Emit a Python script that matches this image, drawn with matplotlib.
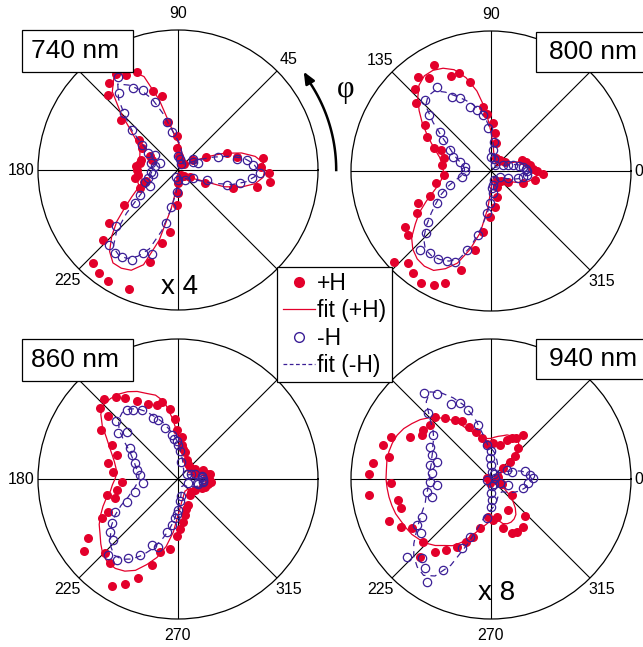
import numpy as np
import matplotlib
matplotlib.use('Agg')
import matplotlib.pyplot as plt
from matplotlib.lines import Line2D
from matplotlib.patches import Rectangle

plt.rcParams['font.family'] = ['Liberation Sans', 'DejaVu Sans']

W, H = 643, 647
RED = '#e3002b'
BLUE = '#3b1f96'

# angle grid of the fitted curves (deg)
fit_deg = np.arange(0, 360, 5)

# ---------------- 740 nm ----------------
p740_fit = [.62, .61, .56, .47, .35, .22, .12, .07, .05, .05, .05, .06, .07, .08, .10, .12, .14, .17,
            .20, .24, .33, .52, .71, .78, .80, .80, .73, .58, .44, .36, .32, .30, .29, .29, .30, .30,
            .30, .30, .30, .30, .30, .32, .38, .46, .57, .67, .76, .81, .81, .79, .72, .52, .28, .14,
            .08, .05, .04, .04, .04, .05, .06, .07, .08, .09, .10, .11, .12, .17, .35, .47, .56, .61]
m740_fit = [.57, .54, .48, .38, .27, .18, .12, .09, .07, .06, .06, .06, .07, .08, .09, .11, .14, .18,
            .21, .25, .31, .42, .54, .63, .70, .75, .66, .53, .42, .30, .22, .18, .17, .17, .18, .19,
            .19, .19, .20, .21, .22, .24, .28, .35, .48, .62, .72, .74, .73, .68, .60, .45, .28, .16,
            .10, .07, .06, .05, .05, .05, .06, .07, .08, .09, .10, .12, .14, .19, .28, .40, .49, .55]
p740_deg = [122.9, 118.7, 112.8, 128.4, 132.9, 107.9, 102.6, 101.3, 92.3, 93.5, 138.4, 142.2, 154,
            180, 187, 170, 159, 198.6, 212.6, 217.8, 223.2, 227.6, 232.4, 237.7, 247.8, 253, 257.4,
            262.6, 267.8, 269, 270, 33, 24.3, 18.9, 12.8, 7.8, 358.3, 352.8, 348, 341.7, 333.7, 331,
            2, 60, 75, 85, 285, 300, 315, 45, 200, 175, 165, 190, 205, 148]
p740_r = [.82, .77, .76, .79, .73, .59, .54, .35, .24, .155, .54, .35, .22,
          .295, .286, .276, .20, .26, .46, .62, .73, .90, .93, .94, .92, .685, .537,
          .444, .25, .167, .095, .13, .22, .367, .43, .615, .65, .66, .574, .416, .215, .098,
          .59, .05, .07, .10, .05, .04, .06, .06, .24, .30, .27, .31, .30, .30]
m740_deg = [123.1, 127.4, 118.7, 113.6, 108.6, 102.4, 99.4, 133.3, 139.2, 145.5, 146.9, 159.7, 183.6,
            195.7, 210.8, 213.3, 217.8, 222, 227.5, 232.9, 237.6, 242.8, 247.4, 252.6, 257.3, 258.7,
            266.5, 36, 17.4, 8.3, 3.8, 358, 353.5, 347.9, 342.9, 340.8, 331.5, 305,
            90, 80, 270, 250, 60, 20, 28, 170, 190, 165, 200, 150, 11]
m740_r = [.79, .69, .665, .62, .515, .354, .277, .56, .437, .315, .196, .137, .19,
          .22, .23, .325, .39, .60, .73, .746, .74, .72, .645, .63, .39, .267,
          .155, .13, .30, .50, .54, .586, .53, .45, .364, .217, .125, .087,
          .10, .08, .07, .05, .05, .15, .12, .17, .18, .20, .25, .25, .43]

# ---------------- 800 nm ----------------
p800_fit = [.33, .32, .29, .24, .19, .13, .09, .07, .06, .06, .06, .07, .07, .08, .09, .10, .12, .18,
            .28, .44, .58, .69, .77, .81, .83, .83, .80, .74, .67, .60, .53, .47, .42, .38, .36, .35,
            .34, .35, .36, .39, .44, .51, .59, .66, .74, .79, .82, .83, .82, .77, .70, .58, .45, .27,
            .13, .09, .07, .06, .05, .05, .05, .06, .07, .08, .10, .12, .15, .19, .24, .28, .31, .33]
m800_fit = [.27, .26, .23, .18, .13, .09, .06, .05, .04, .04, .05, .05, .06, .07, .08, .10, .13, .19,
            .28, .36, .43, .49, .54, .59, .65, .70, .70, .66, .54, .43, .35, .30, .26, .22, .20, .19,
            .19, .20, .22, .27, .33, .39, .45, .52, .60, .68, .73, .74, .73, .71, .67, .56, .42, .30,
            .21, .15, .11, .08, .06, .05, .05, .05, .05, .06, .07, .08, .10, .13, .17, .21, .24, .26]
p800_deg = [118.3, 127.6, 123.6, 113, 108, 103.3, 132.6, 137.9, 145, 151.9, 158.5, 157.6, 97.4, 94.3,
            87.2, 84, 80, 165, 173, 184.8, 192.8, 202.8, 204, 209.7, 212.9, 217.7, 223, 228.2, 232.6,
            238.1, 243.2, 247.7, 253, 258.6, 262.8, 268.7, 276.4, 282.5, 290, 19.7, 8.7, 356.7, 348.4,
            339, 33.7, 328, 50.7, 0, 14, 3, 70, 300, 315]
p800_r = [.86, .85, .795, .737, .733, .65, .80, .72, .575, .52, .44, .39, .46, .41,
          .34, .27, .20, .35, .355, .34, .40, .47, .57, .61, .73, .75, .95, .885, .92,
          .94, .91, .867, .74, .576, .437, .326, .256, .188, .119, .233, .282, .374, .32,
          .247, .12, .145, .10, .33, .26, .30, .10, .08, .10]
m800_deg = [122.8, 132.9, 117.9, 113.1, 108, 102.6, 98.5, 93.6, 84, 83.6, 137.8, 142.4, 146.9, 152.9,
            159, 163.2, 170.5, 180, 190.9, 198.9, 204.4, 210.8, 219, 223.8, 228, 233.5, 238.9, 243.7,
            248.3, 253.3, 258.8, 264, 268, 276, 26, 15, 7.6, 353.6, 345, 337, 327.8,
            0, 280, 290, 60, 75, 88, 272, 10, 350, 3, 20]
m800_r = [.717, .69, .60, .564, .483, .447, .404, .305, .21, .15, .595, .46, .406, .33,
          .288, .23, .188, .186, .213, .31, .387, .45, .576, .643, .76, .73, .73, .715,
          .70, .59, .466, .30, .23, .16, .098, .165, .233, .256, .20, .134, .076,
          .26, .10, .07, .05, .09, .10, .12, .20, .23, .25, .13]

# ---------------- 860 nm ----------------
p860_fit = [.20, .19, .17, .14, .12, .10, .09, .09, .09, .10, .11, .12, .13, .15, .17, .20, .23, .27,
            .31, .43, .56, .62, .65, .69, .72, .74, .75, .75, .72, .66, .59, .54, .50, .47, .45, .44,
            .45, .47, .49, .53, .57, .61, .65, .68, .72, .76, .78, .78, .76, .72, .65, .58, .49, .38,
            .26, .20, .16, .14, .12, .11, .10, .10, .10, .10, .11, .12, .13, .15, .17, .19, .20, .20]
m860_fit = [.18, .17, .15, .12, .09, .07, .06, .05, .05, .05, .06, .07, .08, .09, .11, .13, .16, .20,
            .26, .31, .36, .42, .47, .53, .58, .61, .62, .60, .55, .47, .40, .36, .33, .31, .29, .28,
            .28, .29, .31, .34, .38, .45, .52, .58, .63, .68, .71, .70, .66, .60, .53, .45, .37, .29,
            .21, .16, .12, .09, .07, .06, .06, .06, .06, .07, .08, .09, .11, .13, .15, .17, .18, .18]
p860_deg = [133, 127, 123.1, 117.9, 112, 106, 101.9, 96.6, 92.8, 90.8, 83.8, 75.6, 137.8, 138.2, 147.3,
            152.9, 158.6, 167.3, 173.5, 182.7, 190.2, 192.6, 197, 205.1, 207.3, 213.5, 217.5, 225.5,
            231.1, 238.4, 243.2, 248.2, 253, 256, 263.4, 268.7, 277, 281, 291.7, 306.9, 18.4, 19.6,
            8.3, 355.5, 344, 327, 45.8, 65.5, 0, 30, 340, 350, 10, 286, 272, 85, 80, 55, 315]
p860_r = [.78, .73, .69, .63, .58, .55, .565, .50, .43, .35, .245, .20, .75, .67, .65,
          .53, .47, .51, .465, .40, .445, .52, .47, .55, .61, .77, .85, .744,
          .77, .90, .84, .764, .64, .535, .50, .41, .31, .26, .20, .14, .128, .19,
          .23, .24, .20, .145, .123, .15, .22, .14, .18, .22, .21, .22, .36, .30, .22, .13, .13]
m860_deg = [137, 126.6, 122.9, 117.8, 112.1, 108.4, 104.4, 98.2, 92, 86, 80, 142.6, 137.3, 147.4,
            152.6, 160, 167.7, 174, 187.1, 196.4, 203.8, 207.4, 213.7, 217.8, 223.3, 227.5, 232.9,
            237.9, 243.4, 248.2, 253.8, 257.9, 265.6, 275, 28, 15.3, 8, 354, 347, 337,
            0, 270, 280, 90, 95, 268, 262, 5, 355, 20, 345]
m860_r = [.61, .614, .587, .557, .468, .444, .374, .318, .27, .20, .12, .537, .50, .407,
          .373, .327, .302, .273, .25, .32, .40, .507, .57, .614, .635, .736, .726,
          .668, .607, .507, .503, .385, .28, .16, .07, .126, .17, .182, .137, .08,
          .18, .22, .12, .24, .29, .25, .33, .175, .18, .10, .15]

# ---------------- 940 nm ----------------
p940_fit = [.05, .04, .04, .05, .06, .08, .08, .12, .18, .25, .31, .34, .345, .34, .335, .32, .31, .30,
            .29, .29, .30, .32, .35, .39, .46, .52, .57, .62, .66, .69, .72, .74, .75, .755, .755, .75,
            .75, .745, .74, .733, .725, .71, .70, .69, .67, .65, .62, .58, .55, .50, .44, .39, .35, .32,
            .29, .27, .30, .33, .34, .34, .33, .31, .27, .22, .16, .11, .08, .06, .05, .04, .04, .04]
m940_fit = [.29, .28, .26, .22, .17, .13, .10, .08, .07, .07, .08, .09, .10, .11, .13, .15, .18, .20,
            .22, .24, .32, .45, .56, .64, .71, .76, .72, .62, .54, .50, .48, .46, .45, .44, .44, .44,
            .44, .45, .46, .48, .50, .54, .59, .65, .72, .78, .82, .84, .80, .68, .50, .36, .28, .24,
            .22, .20, .18, .16, .14, .13, .12, .12, .12, .13, .15, .17, .19, .21, .23, .25, .27, .28]
p940_deg = [132.2, 127.2, 121.4, 116.8, 112.5, 107.8, 102.9, 97, 138.5, 144, 147.6, 152.8, 157.1, 162.5,
            167.6, 172.5, 177.8, 182.5, 187.5, 192.8, 198, 202.4, 207.8, 211.9, 222.8, 227.6, 232.4,
            237.6, 243.1, 248.3, 253, 257.4, 266, 273, 284.2, 290.8, 296, 304.1, 312.8, 299.2, 322.3,
            333.4, 278.6, 53.7, 58.4, 63.4, 68.1, 75.2, 86.3, 48.3, 44.2, 41.3, 40.9,
            0, 20, 340, 160, 250]
p940_r = [.595, .544, .494, .464, .405, .35, .298, .25, .582, .597, .586, .65, .778, .806,
          .743, .853, .87, .717, .877, .679, .678, .786, .73, .667, .659, .75, .655,
          .60, .542, .482, .431, .361, .27, .293, .359, .415, .418, .411, .357, .254, .187,
          .085, .272, .39, .341, .33, .30, .251, .255, .293, .239, .18, .117,
          .04, .05, .05, .03, .03]
m940_deg = [127.7, 122.7, 118, 112.3, 108.2, 103.2, 97.3, 133.7, 142.7, 152, 158, 167, 174.5, 182.5,
            191, 196.6, 162.3, 208.5, 211.7, 218, 222.6, 228.8, 233.5, 242.4, 237.9, 247, 250, 263.7,
            29.9, 19.5, 13.2, 5.9, 0.9, 353.4, 343.9, 341, 186, 335,
            90, 92, 88, 270, 272, 268, 275, 85, 10, 200, 300, 60]
m940_r = [.78, .72, .61, .584, .52, .396, .245, .648, .518, .493, .457, .447, .426, .436,
          .468, .442, .407, .564, .625, .63, .819, .753, .794, .734, .866, .538, .44, .283,
          .129, .157, .25, .28, .30, .268, .24, .131, .39, .07,
          .20, .15, .10, .20, .15, .10, .05, .05, .03, .03, .04, .04]

panels = [
    dict(name='740 nm', cx=178, cy=170, pfit=p740_fit, mfit=m740_fit,
         pdeg=p740_deg, pr=p740_r, mdeg=m740_deg, mr=m740_r,
         labels={90: '90', 45: '45', 180: '180', 225: '225'}),
    dict(name='800 nm', cx=491, cy=171, pfit=p800_fit, mfit=m800_fit,
         pdeg=p800_deg, pr=p800_r, mdeg=m800_deg, mr=m800_r,
         labels={90: '90', 135: '135', 0: '0', 315: '315'}),
    dict(name='860 nm', cx=178, cy=479, pfit=p860_fit, mfit=m860_fit,
         pdeg=p860_deg, pr=p860_r, mdeg=m860_deg, mr=m860_r,
         labels={180: '180', 225: '225', 315: '315', 270: '270'}),
    dict(name='940 nm', cx=491, cy=479, pfit=p940_fit, mfit=m940_fit,
         pdeg=p940_deg, pr=p940_r, mdeg=m940_deg, mr=m940_r,
         labels={225: '225', 315: '315', 270: '270', 0: '0'}),
]

RAD = 140  # circle radius in px

fig = plt.figure(figsize=(W / 100, H / 100), dpi=100)
fig.patch.set_facecolor('white')


def fx(x):
    return x / W


def fy(y):
    return 1 - y / H


axes = []
for p in panels:
    ax = fig.add_axes([fx(p['cx'] - RAD), fy(p['cy'] + RAD), 2 * RAD / W, 2 * RAD / H],
                      projection='polar')
    ax.set_ylim(0, 1)
    ax.set_yticks([])
    ax.set_xticks(np.radians(np.arange(0, 360, 45)))
    ax.set_xticks(np.radians(np.arange(22.5, 360, 45)), minor=True)
    ax.set_xticklabels([])
    ax.xaxis.grid(True, color='black', lw=0.8, ls='-')
    ax.tick_params(axis='x', which='major', length=0)
    ax.tick_params(axis='x', which='minor', direction='in', length=4, width=0.8, color='black')
    ax.spines['polar'].set_linewidth(0.9)
    ax.set_axisbelow(True)

    th = np.radians(np.append(fit_deg, 360))
    ax.plot(np.radians(p['pdeg']), p['pr'], 'o', color=RED, ms=6.5, mew=0, zorder=3)
    ax.plot(th, np.append(p['pfit'], p['pfit'][0]), '-', color=RED, lw=0.9, zorder=4)
    ax.plot(np.radians(p['mdeg']), p['mr'], 'o', mfc='none', mec=BLUE, ms=6, mew=0.9, zorder=5)
    ax.plot(th, np.append(p['mfit'], p['mfit'][0]), color=BLUE, lw=0.9, ls=(0, (5, 4)), zorder=6)

    for ang, lab in p['labels'].items():
        rr = 1.055 if ang == 0 else 1.12
        ax.text(np.radians(ang), rr, lab, ha='center', va='center', fontsize=11.5, clip_on=False)
    axes.append(ax)

# wavelength boxes
boxes = [(22, 30, 111, 42, 75, 51), (536, 32, 110, 40, 593, 52),
         (22, 339, 111, 42, 75, 360), (536, 339, 110, 40, 593, 359)]
for p, (x0, y0, bw, bh, tx, ty) in zip(panels, boxes):
    fig.patches.append(Rectangle((fx(x0), fy(y0 + bh)), bw / W, bh / H, transform=fig.transFigure,
                                 facecolor='white', edgecolor='black', lw=0.9, zorder=4))
    fig.text(fx(tx), fy(ty), p['name'], ha='center', va='center', fontsize=19, zorder=5)

# scale factors
fig.text(fx(180), fy(287), 'x 4', ha='center', va='center', fontsize=20)
fig.text(fx(497), fy(593), 'x 8', ha='center', va='center', fontsize=20)

# rotation arrow for phi
ax0 = axes[0]
arc = np.radians(np.linspace(0, 34, 30))
ax0.plot(arc, np.full(arc.size, 1.13), color='black', lw=1.8, clip_on=False)
ax0.annotate('', xy=(np.radians(39), 1.143), xytext=(np.radians(33), 1.13),
             arrowprops=dict(arrowstyle='-|>,head_length=0.7,head_width=0.3', color='black', lw=1.8),
             annotation_clip=False)
fig.text(fx(346), fy(90), 'φ', ha='center', va='center', fontsize=22, family='Liberation Serif')

# legend
handles = [Line2D([], [], marker='o', ls='none', color=RED, ms=8, mew=0),
           Line2D([], [], color=RED, lw=0.9),
           Line2D([], [], marker='o', ls='none', mfc='none', mec=BLUE, ms=7, mew=1),
           Line2D([], [], color=BLUE, lw=0.9, ls=(0, (3, 2)))]
leg = fig.legend(handles, ['+H', 'fit (+H)', '-H', 'fit (-H)'], loc='center',
                 bbox_to_anchor=(fx(334.5), fy(324.5)), fontsize=16.5, frameon=True,
                 fancybox=False, edgecolor='black', framealpha=1, borderpad=0.25,
                 labelspacing=0.18, handlelength=1.4, handletextpad=0.1, borderaxespad=0)
leg.get_frame().set_linewidth(0.9)

fig.savefig('out.png', dpi=100)
